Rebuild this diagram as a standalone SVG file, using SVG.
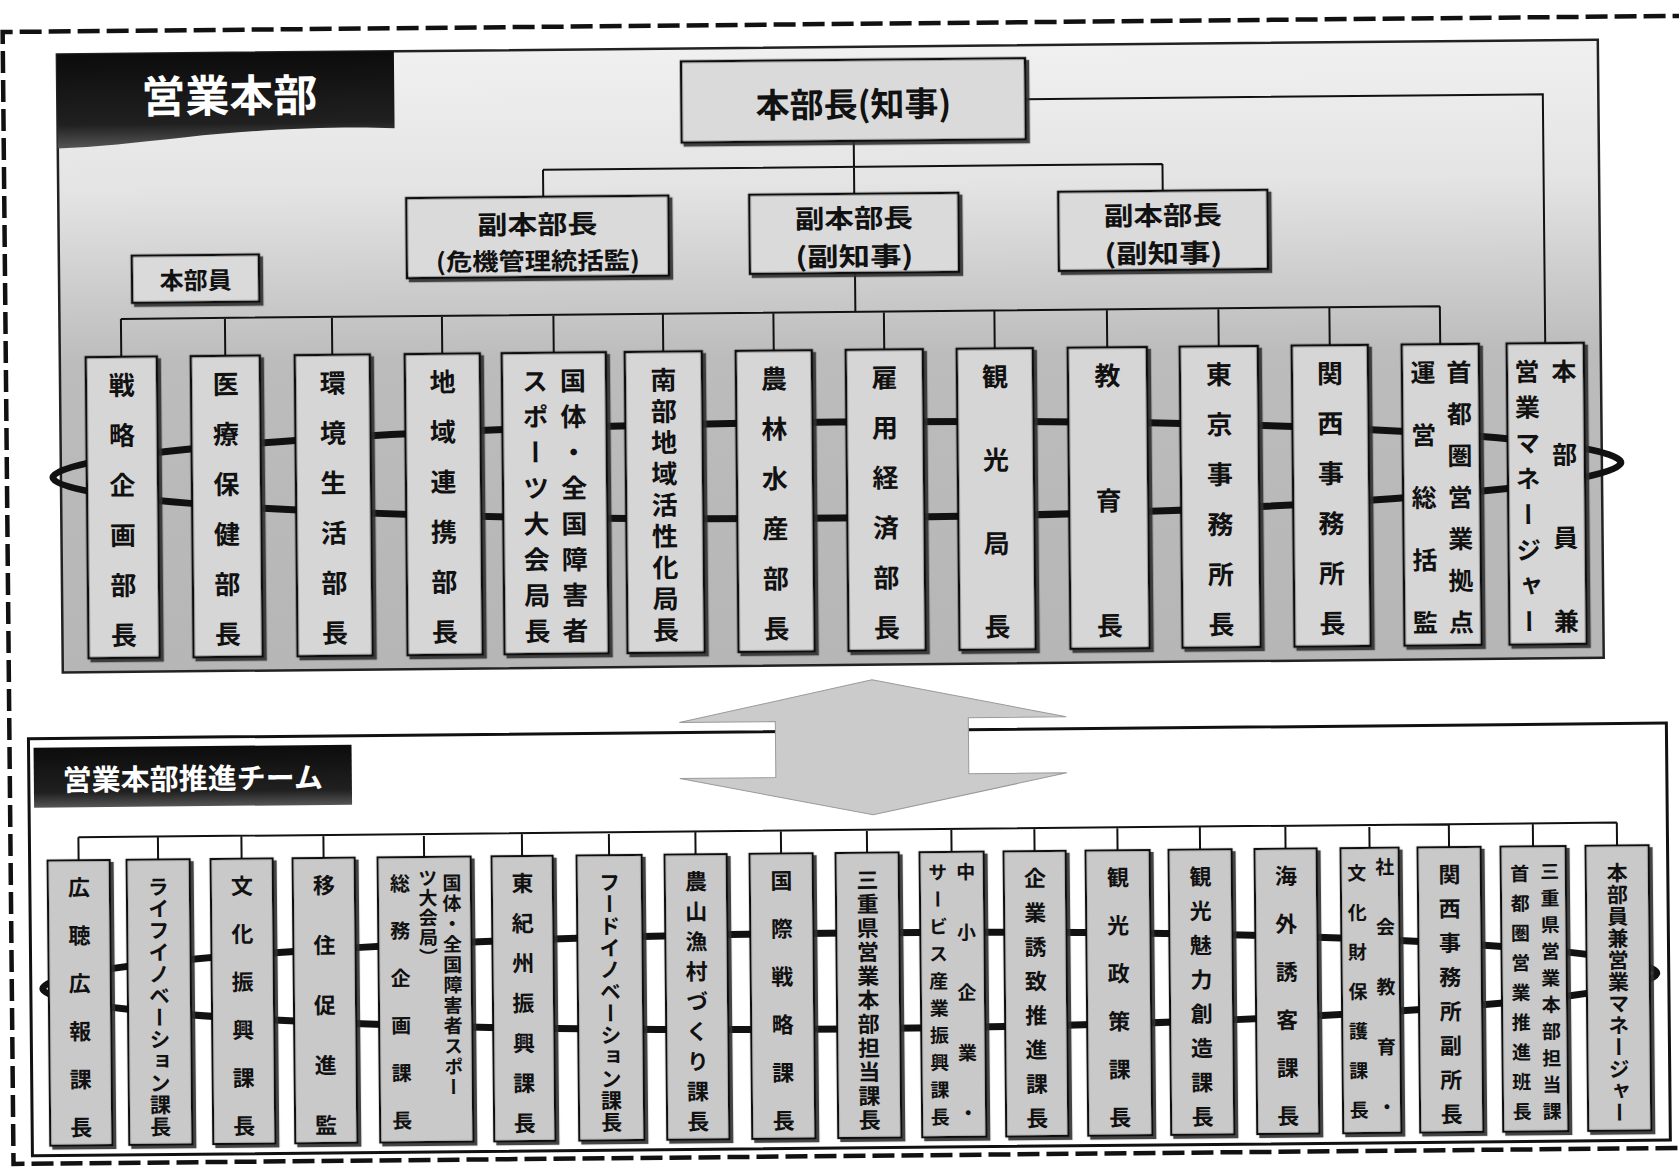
<svg xmlns="http://www.w3.org/2000/svg" width="1679" height="1170" viewBox="0 0 1679 1170">
<style>
.t{font-family:"Noto Sans CJK JP","Noto Sans CJK SC",sans-serif;font-weight:700;fill:#111}
.vt{font-family:"Noto Sans CJK JP","Noto Sans CJK SC",sans-serif;font-weight:700;fill:#111;writing-mode:vertical-rl}
.wt{font-family:"Noto Sans CJK JP","Noto Sans CJK SC",sans-serif;font-weight:700;fill:#fff}
.b1{fill:#d6d6d6;stroke:#111;stroke-width:2.5}
.b2{fill:#c9c9c9;stroke:#111;stroke-width:2.2}
.bh{fill:#dadada;stroke:#111;stroke-width:2.5}
.c{stroke:#111;stroke-width:2;fill:none}
.loop{stroke:#111;stroke-width:7;fill:none}
</style>
<defs>
<linearGradient id="pg" x1="0" y1="0" x2="0" y2="1">
<stop offset="0" stop-color="#f0f0f0"/>
<stop offset="0.22" stop-color="#e4e4e4"/>
<stop offset="0.38" stop-color="#cdcdcd"/>
<stop offset="0.5" stop-color="#bcbcbc"/>
<stop offset="1" stop-color="#b6b6b6"/>
</linearGradient>
<linearGradient id="hg" x1="0" y1="0" x2="0" y2="1">
<stop offset="0" stop-color="#0c0c0c"/>
<stop offset="0.75" stop-color="#202020"/>
<stop offset="1" stop-color="#555"/>
</linearGradient>
<filter id="ds" x="-10%" y="-10%" width="130%" height="130%">
<feDropShadow dx="3" dy="3" stdDeviation="0.6" flood-color="#333" flood-opacity="0.9"/>
</filter>
</defs>
<rect x="0" y="0" width="1679" height="1170" fill="#fff"/>
<g transform="rotate(-0.55 840 585)">
<path d="M1700,24 H8 V1156 H1700" fill="none" stroke="#111" stroke-width="4.5" stroke-dasharray="22 7"/>

<g id="panel-top">
<rect x="62" y="47" width="1541" height="618" fill="url(#pg)" stroke="#222" stroke-width="2.5"/>
<path d="M62,47 H399 V124 C340,121 260,124 190,131 C140,136 100,140 62,141 Z" fill="url(#hg)"/>
<text class="wt" x="234" y="106" font-size="44" text-anchor="middle">営業本部</text>
</g>

<g id="panel-team">
<rect x="27" y="731" width="1638" height="417" fill="#fff" stroke="#111" stroke-width="3"/>
<rect x="32" y="740" width="318" height="60" fill="url(#hg)"/>
<text class="wt" x="191" y="783" font-size="29" text-anchor="middle">営業本部推進チーム</text>
</g>

<g id="big-arrow">
<polygon points="871,680 1065,719 967,719 967,775 1065,775 871,815 678,777 774,777 774,721 678,721" fill="#cbcbcb" stroke="#9a9a9a" stroke-width="1"/>
</g>

<g id="connectors">
<path class="c" d="M1030,101 H1547.5 V350"/>
<path class="c" d="M858,141 V194 M547,167 H1166.5 M547,167 V194 M1166.5,167 V194 M858,273 V312"/>
<path class="c" d="M123.5,312 H1442.5 M123.5,312 V350 M227.5,312 V350 M334.5,312 V350 M444.5,312 V350 M556,312 V350 M665.5,312 V350 M776,312 V350 M886.5,312 V350 M997,312 V350 M1109.5,312 V350 M1221,312 V350 M1332,312 V350 M1442.5,312 V350"/>
<ellipse class="loop" cx="838" cy="470" rx="784" ry="48"/>
<path class="c" d="M76,830 H1614.5 M76,830 V853 M155.5,830 V853 M239,830 V853 M321,830 V853 M421.5,830 V853 M519.5,830 V853 M606.5,830 V853 M693,830 V853 M778.5,830 V853 M864.5,830 V853 M949,830 V853 M1032,830 V853 M1115,830 V853 M1197.5,830 V853 M1283,830 V853 M1367,830 V853 M1446.5,830 V853 M1530.5,830 V853 M1614.5,830 V853"/>
<ellipse class="loop" cx="846" cy="981" rx="807" ry="48"/>
</g>

<g id="n-honbucho">
<rect class="bh" x="686" y="60" width="344" height="81" filter="url(#ds)"/>
<text class="t" x="858" y="117" font-size="34" text-anchor="middle">本部長(知事)</text>
</g>
<g id="n-fuku1">
<rect class="bh" x="410" y="194" width="262" height="80" filter="url(#ds)"/>
<text class="t" x="541" y="231" font-size="26" text-anchor="middle" textLength="120" lengthAdjust="spacingAndGlyphs">副本部長</text>
<text class="t" x="541" y="267" font-size="24" text-anchor="middle" textLength="204" lengthAdjust="spacingAndGlyphs">(危機管理統括監)</text>
</g>
<g id="n-fuku2">
<rect class="bh" x="753" y="194" width="209" height="79" filter="url(#ds)"/>
<text class="t" x="857.5" y="228" font-size="26" text-anchor="middle" textLength="118" lengthAdjust="spacingAndGlyphs">副本部長</text>
<text class="t" x="857.5" y="266" font-size="26" text-anchor="middle" textLength="118" lengthAdjust="spacingAndGlyphs">(副知事)</text>
</g>
<g id="n-fuku3">
<rect class="bh" x="1062" y="194" width="209" height="79" filter="url(#ds)"/>
<text class="t" x="1166.5" y="228" font-size="26" text-anchor="middle" textLength="118" lengthAdjust="spacingAndGlyphs">副本部長</text>
<text class="t" x="1166.5" y="266" font-size="26" text-anchor="middle" textLength="118" lengthAdjust="spacingAndGlyphs">(副知事)</text>
</g>
<g id="n-honbuin">
<rect class="bh" x="135" y="249" width="127" height="47" filter="url(#ds)"/>
<text class="t" x="198.5" y="283" font-size="24" text-anchor="middle">本部員</text>
</g>

<g id="d1"><rect class="b1" x="88" y="350" width="71" height="301" filter="url(#ds)"/>
<text class="vt" x="123.5" y="365 415 465 515 565 615" font-size="26">戦略企画部長</text></g>
<g id="d2"><rect class="b1" x="193" y="350" width="69" height="301" filter="url(#ds)"/>
<text class="vt" x="227.5" y="365 415 465 515 565 615" font-size="26">医療保健部長</text></g>
<g id="d3"><rect class="b1" x="297" y="350" width="75" height="301" filter="url(#ds)"/>
<text class="vt" x="334.5" y="365 415 465 515 565 615" font-size="26">環境生活部長</text></g>
<g id="d4"><rect class="b1" x="407" y="350" width="75" height="301" filter="url(#ds)"/>
<text class="vt" x="444.5" y="365 415 465 515 565 615" font-size="26">地域連携部長</text></g>
<g id="d5"><rect class="b1" x="504" y="350" width="104" height="301" filter="url(#ds)"/>
<text class="vt" x="575" y="365 400.7 436.4 472.1 507.9 543.6 579.3 615" font-size="26">国体・全国障害者</text>
<text class="vt" x="537" y="365 400.7 436.4 472.1 507.9 543.6 579.3 615" font-size="26">スポーツ大会局長</text></g>
<g id="d6"><rect class="b1" x="627" y="350" width="77" height="301" filter="url(#ds)"/>
<text class="vt" x="665.5" y="365 396.25 427.5 458.75 490 521.25 552.5 583.75 615" font-size="26">南部地域活性化局長</text></g>
<g id="d7"><rect class="b1" x="738" y="350" width="76" height="301" filter="url(#ds)"/>
<text class="vt" x="776" y="365 415 465 515 565 615" font-size="26">農林水産部長</text></g>
<g id="d8"><rect class="b1" x="848" y="350" width="77" height="301" filter="url(#ds)"/>
<text class="vt" x="886.5" y="365 415 465 515 565 615" font-size="26">雇用経済部長</text></g>
<g id="d9"><rect class="b1" x="959" y="350" width="76" height="301" filter="url(#ds)"/>
<text class="vt" x="997" y="365 448.3 531.7 615" font-size="26">観光局長</text></g>
<g id="d10"><rect class="b1" x="1070" y="350" width="79" height="301" filter="url(#ds)"/>
<text class="vt" x="1109.5" y="365 490 615" font-size="26">教育長</text></g>
<g id="d11"><rect class="b1" x="1182" y="350" width="78" height="301" filter="url(#ds)"/>
<text class="vt" x="1221" y="365 415 465 515 565 615" font-size="26">東京事務所長</text></g>
<g id="d12"><rect class="b1" x="1294" y="350" width="76" height="301" filter="url(#ds)"/>
<text class="vt" x="1332" y="365 415 465 515 565 615" font-size="26">関西事務所長</text></g>
<g id="d13"><rect class="b1" x="1404" y="350" width="77" height="301" filter="url(#ds)"/>
<text class="vt" x="1461" y="365.5 407.2 448.8 490.5 532.2 573.8 615.5" font-size="25">首都圏営業拠点</text>
<text class="vt" x="1425" y="365.5 428 490.5 553 615.5" font-size="25">運営総括監</text></g>
<g id="d14"><rect class="b1" x="1509" y="350" width="77" height="301" filter="url(#ds)"/>
<text class="vt" x="1566" y="365.5 448.8 532.2 615.5" font-size="25">本部員兼</text>
<text class="vt" x="1529" y="365.5 401.2 436.9 472.6 508.4 544.1 579.8 615.5" font-size="25">営業マネージャー</text></g>

<g id="s1"><rect class="b2" x="45" y="853" width="62" height="285" filter="url(#ds)"/>
<text class="vt" x="76" y="869 917 965 1013 1061 1109" font-size="22">広聴広報課長</text></g>
<g id="s2"><rect class="b2" x="124" y="853" width="63" height="285" filter="url(#ds)"/>
<text class="vt" x="155.5" y="869.5 891.3 913.1 935 956.8 978.6 1000.4 1022.2 1044 1065.9 1087.7 1109.5" font-size="21">ライフイノベーション課長</text></g>
<g id="s3"><rect class="b2" x="208" y="853" width="62" height="285" filter="url(#ds)"/>
<text class="vt" x="239" y="869 917 965 1013 1061 1109" font-size="22">文化振興課長</text></g>
<g id="s4"><rect class="b2" x="290" y="853" width="62" height="285" filter="url(#ds)"/>
<text class="vt" x="321" y="869 929 989 1049 1109" font-size="22">移住促進監</text></g>
<g id="s5"><rect class="b2" x="375" y="853" width="93" height="285" filter="url(#ds)"/>
<text class="vt" x="449" y="869.5 889.9 910.3 930.7 951.1 971.5 991.9 1012.3 1032.7 1053.1 1073.5" font-size="19">国体・全国障害者スポー</text>
<text class="vt" x="425" y="864.5 884.3 904 923.8 943.5" font-size="19">ツ大会局）</text>
<text class="vt" x="397" y="869 916.4 963.8 1011.2 1058.6 1106" font-size="20">総務企画課長</text></g>
<g id="s6"><rect class="b2" x="489" y="853" width="61" height="285" filter="url(#ds)"/>
<text class="vt" x="519.5" y="869 909 949 989 1029 1069 1109" font-size="22">東紀州振興課長</text></g>
<g id="s7"><rect class="b2" x="574" y="853" width="65" height="285" filter="url(#ds)"/>
<text class="vt" x="606.5" y="869.5 891.3 913.1 935 956.8 978.6 1000.4 1022.2 1044 1065.9 1087.7 1109.5" font-size="21">フードイノベーション課長</text></g>
<g id="s8"><rect class="b2" x="662" y="853" width="62" height="285" filter="url(#ds)"/>
<text class="vt" x="693" y="869 899 929 959 989 1019 1049 1079 1109" font-size="22">農山漁村づくり課長</text></g>
<g id="s9"><rect class="b2" x="747" y="853" width="63" height="285" filter="url(#ds)"/>
<text class="vt" x="778.5" y="869 917 965 1013 1061 1109" font-size="22">国際戦略課長</text></g>
<g id="s10"><rect class="b2" x="833" y="853" width="63" height="285" filter="url(#ds)"/>
<text class="vt" x="864.5" y="869 893 917 941 965 989 1013 1037 1061 1085 1109" font-size="22">三重県営業本部担当課長</text></g>
<g id="s11"><rect class="b2" x="917" y="853" width="64" height="285" filter="url(#ds)"/>
<text class="vt" x="963" y="863.5 923.8 984 1044.3 1104.5" font-size="19">中小企業・</text>
<text class="vt" x="935" y="863.5 890.7 917.9 945.1 972.3 999.5 1026.7 1053.9 1081.1 1108.3" font-size="19">サービス産業振興課長</text></g>
<g id="s12"><rect class="b2" x="1001" y="853" width="62" height="285" filter="url(#ds)"/>
<text class="vt" x="1032" y="869 903.3 937.6 971.9 1006.1 1040.4 1074.7 1109" font-size="22">企業誘致推進課長</text></g>
<g id="s13"><rect class="b2" x="1083" y="853" width="64" height="285" filter="url(#ds)"/>
<text class="vt" x="1115" y="869 917 965 1013 1061 1109" font-size="22">観光政策課長</text></g>
<g id="s14"><rect class="b2" x="1166" y="853" width="63" height="285" filter="url(#ds)"/>
<text class="vt" x="1197.5" y="869 903.3 937.6 971.9 1006.1 1040.4 1074.7 1109" font-size="22">観光魅力創造課長</text></g>
<g id="s15"><rect class="b2" x="1252" y="853" width="62" height="285" filter="url(#ds)"/>
<text class="vt" x="1283" y="869 917 965 1013 1061 1109" font-size="22">海外誘客課長</text></g>
<g id="s16"><rect class="b2" x="1338" y="853" width="58" height="285" filter="url(#ds)"/>
<text class="vt" x="1382" y="862.5 922.5 982.5 1042.5 1102.5" font-size="19">社会教育・</text>
<text class="vt" x="1354" y="868.5 908 947.5 987 1026.5 1066 1105.5" font-size="19">文化財保護課長</text></g>
<g id="s17"><rect class="b2" x="1415" y="853" width="63" height="285" filter="url(#ds)"/>
<text class="vt" x="1446.5" y="869 903.3 937.6 971.9 1006.1 1040.4 1074.7 1109" font-size="22">関西事務所副所長</text></g>
<g id="s18"><rect class="b2" x="1498" y="853" width="65" height="285" filter="url(#ds)"/>
<text class="vt" x="1547" y="868.5 895.2 921.8 948.5 975.2 1001.8 1028.5 1055.2 1081.8 1108.5" font-size="19">三重県営業本部担当課</text>
<text class="vt" x="1517" y="870.5 900.25 930 959.75 989.5 1019.25 1049 1078.75 1108.5" font-size="19">首都圏営業推進班長</text></g>
<g id="s19"><rect class="b2" x="1583" y="853" width="63" height="285" filter="url(#ds)"/>
<text class="vt" x="1614.5" y="869.5 891.3 913.1 935 956.8 978.6 1000.4 1022.2 1044 1065.9 1087.7 1109.5" font-size="21">本部員兼営業マネージャー</text></g>
</g>
</svg>
